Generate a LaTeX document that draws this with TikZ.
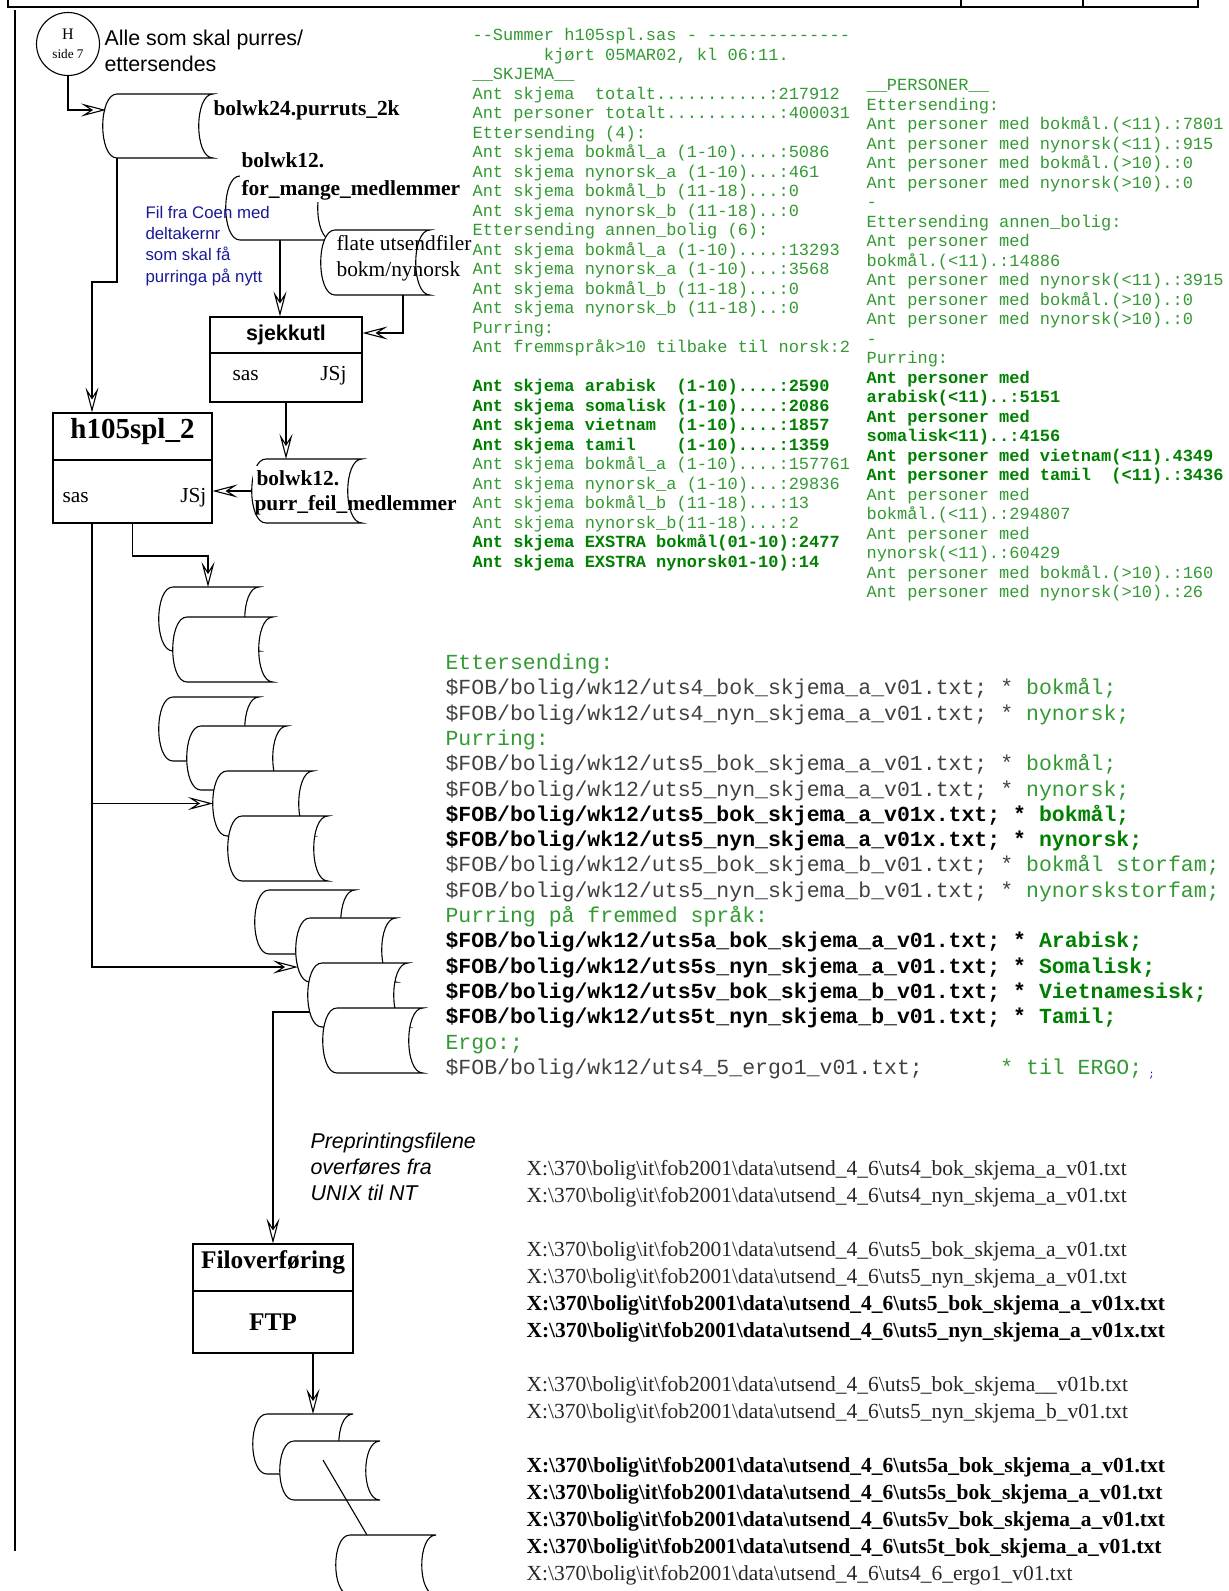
\documentclass[tikz,border=0pt]{standalone}
\usepackage{fontspec}
\setmainfont{Liberation Serif}
\setsansfont{Liberation Sans}
\setmonofont{Liberation Mono}
\usepackage{xcolor}
\usepackage{tikz}
\usetikzlibrary{arrows.meta}

\definecolor{utgronn}{RGB}{51,153,51}
\definecolor{morkgronn}{RGB}{0,128,0}
\definecolor{kodegraa}{RGB}{64,64,64}
\definecolor{coenblaa}{RGB}{25,25,150}

\tikzset{
  pics/lagring/.style 2 args={code={
    \filldraw[fill=white] (0,0) -- (#1,0) .. controls (#1-19,0) and (#1-19,#2) .. (#1,#2)
      -- (0,#2) .. controls (-19,#2) and (-19,0) .. (0,0) -- cycle;
    \coordinate (-nv) at (0,0);
    \coordinate (-sv) at (0,#2);
    \coordinate (-v) at (-14,#2/2);
  }},
  boks/.style={draw, inner sep=0pt},
  tekst/.style={inner sep=0pt, anchor=north west, align=left},
}

\begin{document}
\begin{tikzpicture}[x=0.5pt, y=-0.5pt, line width=0.55pt, >={Stealth[open,length=12.5pt,width=6.5pt,inset=5pt]}]
        \useasboundingbox (0,0) rectangle (1228,1591);
        % 边框
        \draw (8,0) -- (8,7) -- (1198,7) -- (1198,0);
        \draw (961,0) -- (961,7);
        \draw (1083,0) -- (1083,7);
        \draw (15,10) -- (15,1551);
        % 起点
        \node [draw,circle,minimum size=31.5pt,inner sep=0pt,align=center,font=\fontsize{6.6}{9.5}\selectfont] (h) at (68,44) {{\fontsize{8}{9.5}\selectfont H}\\side 7};
        \node [tekst,font=\sffamily\fontsize{10.7}{13}\selectfont] (alle) at (104,26.8) {\strut Alle som skal purres/\\ettersendes};
        % 数据文件
        \pic (s1) at (117,94) {lagring={96}{64}};
        \pic (s2) at (240,176) {lagring={92}{64}};
        \pic (s3) at (335,230) {lagring={95}{65}};
        \pic (s4) at (266,459) {lagring={96}{64}};
        \node [anchor=base west,inner sep=0pt,font=\bfseries\fontsize{10.7}{13}\selectfont] (l1) at (213,115) {bolwk24.purruts\_2k};
        \node [tekst,fill=white,inner sep=1pt,font=\bfseries\fontsize{10.7}{14}\selectfont] (l2) at (239,145.4) {\strut bolwk12.\\for\_mange\_medlemmer};
        \node [tekst,font=\fontsize{10.7}{13}\selectfont] (l3) at (336,231.8) {\strut flate utsendfiler\\bokm/nynorsk};
        \node [anchor=base west,fill=white,inner sep=2pt,font=\bfseries\fontsize{10.7}{12.5}\selectfont] (l4a) at (252,485) {bolwk12.};
        \node [anchor=base west,inner sep=0pt,font=\bfseries\fontsize{10.7}{12.5}\selectfont] (l4b) at (254,510) {purr\_feil\_medlemmer};
        \node [tekst,text=coenblaa,font=\sffamily\fontsize{8.4}{10.6}\selectfont] (coen) at (145,203.2) {\strut Fil fra Coen med\\deltakernr\\som skal få\\purringa på nytt};
        % 程序框
        \node [boks,minimum width=76pt,minimum height=42.5pt] (sjekk) at (286,359.5) {};
        \draw (sjekk.west |- 0,353) -- (sjekk.east |- 0,353);
        \node [anchor=base,inner sep=0pt,font=\sffamily\bfseries\fontsize{10.7}{13}\selectfont] (sjekknavn) at (286,340) {sjekkutl};
        \node [anchor=base west,inner sep=0pt,font=\fontsize{10.7}{13}\selectfont] (sjekksas) at (232,380) {sas};
        \node [anchor=base east,inner sep=0pt,font=\fontsize{10.7}{13}\selectfont] (sjekkjsj) at (347,380) {JSj};
        \node [boks,minimum width=79.5pt,minimum height=55pt] (h105) at (132.5,468) {};
        \draw (h105.west |- 0,460) -- (h105.east |- 0,460);
        \node [anchor=base,inner sep=0pt,font=\bfseries\fontsize{14.5}{17}\selectfont] (h105navn) at (132.5,438) {h105spl\_2};
        \node [anchor=base west,inner sep=0pt,font=\fontsize{10.7}{13}\selectfont] (h105sas) at (62,502) {sas};
        \node [anchor=base east,inner sep=0pt,font=\fontsize{10.7}{13}\selectfont] (h105jsj) at (207,502) {JSj};
        \node [boks,minimum width=80pt,minimum height=54.5pt] (fil) at (273,1298.5) {};
        \draw (fil.west |- 0,1291) -- (fil.east |- 0,1291);
        \node [anchor=base,inner sep=0pt,font=\bfseries\fontsize{12.7}{15}\selectfont] (filnavn) at (273,1268) {Filoverføring};
        \node [anchor=base,inner sep=0pt,font=\bfseries\fontsize{12.7}{15}\selectfont] (ftp) at (273,1330) {FTP};
        % 输出文件
        \pic (sA) at (173,587) {lagring={86}{64}};
        \pic (sB) at (187,617) {lagring={86}{65}};
        \pic (sC) at (173,697) {lagring={86}{64}};
        \pic (sD) at (201,726) {lagring={86}{64}};
        \pic (sE) at (227,771) {lagring={86}{65}};
        \pic (sF) at (242,816) {lagring={86}{65}};
        \pic (sG) at (269,890) {lagring={86}{64}};
        \pic (sH) at (310,918) {lagring={86}{64}};
        \pic (sI) at (322,963) {lagring={86}{64}};
        \pic (sJ) at (337,1008) {lagring={86}{65}};
        \pic (sK) at (267,1414) {lagring={86}{60}};
        \pic (sL) at (294,1441) {lagring={86}{59}};
        \pic (sM) at (350,1535) {lagring={86}{60}};
        \draw ([shift={(29,19)}]sL-nv) -- ([shift={(17,0)}]sM-nv);
        % 连线
        \coordinate (s1inn) at (106,110);
        \coordinate (knekk1) at (92,282);
        \coordinate (s2ut) at (280,240);
        \coordinate (s3ut) at (403,295);
        \coordinate (knekk2) at (208,556);
        \coordinate (stamme) at (h105.south -| knekk1);
        \coordinate (sHinn) at (298,967);
        \coordinate (sIut) at (310,1012);
        \coordinate (filut) at (313,1353);
        \draw [->] (h.south) |- (s1inn);
        \draw [->] (s1-sv) |- (knekk1) -- (knekk1 |- h105.north);
        \draw [->] (s2ut) -- (s2ut |- sjekk.north);
        \draw [->] (s3ut) |- ([yshift=13.25pt]sjekk.east);
        \draw [->] (sjekk.south) -- (sjekk.south |- s4-nv);
        \draw [->] (s4-v) -- (s4-v -| h105.east);
        \draw [->] (h105.south) |- (knekk2) -- (knekk2 |- sA-nv);
        \draw [->] (stamme) |- (sE-v);
        \draw [->] (stamme) |- (sHinn);
        \draw [->] (sIut) -| (fil.north);
        \draw [->] (filut) -- (filut |- sK-nv);
        \node [tekst,font=\sffamily\itshape\fontsize{10.7}{13}\selectfont] (preprint) at (310,1129.8) {\strut Preprintingsfilene\\overføres fra\\UNIX til NT};
        % 统计
        \node [tekst,text=utgronn,font=\ttfamily\fontsize{8.5}{9.75}\selectfont] (skjema) at (472,26.4) {\strut -{}-Summer h105spl.sas - -{}-{}-{}-{}-{}-{}-{}-{}-{}-{}-{}-{}-{}-\\
~~~~~~~kjørt 05MAR02, kl 06:11.\\
\_\_SKJEMA\_\_\\
Ant skjema~~totalt...........:217912\\
Ant personer totalt...........:400031\\
Ettersending (4):\\
Ant skjema bokmål\_a (1-10)....:5086\\
Ant skjema nynorsk\_a (1-10)...:461\\
Ant skjema bokmål\_b (11-18)...:0\\
Ant skjema nynorsk\_b (11-18)..:0\\
Ettersending annen\_bolig (6):\\
Ant skjema bokmål\_a (1-10)....:13293\\
Ant skjema nynorsk\_a (1-10)...:3568\\
Ant skjema bokmål\_b (11-18)...:0\\
Ant skjema nynorsk\_b (11-18)..:0\\
Purring:\\
Ant fremmspråk>10 tilbake til norsk:2\\[9.75pt]
\textbf{\textcolor{morkgronn}{Ant skjema arabisk~~(1-10)....:2590}}\\
\textbf{\textcolor{morkgronn}{Ant skjema somalisk (1-10)....:2086}}\\
\textbf{\textcolor{morkgronn}{Ant skjema vietnam~~(1-10)....:1857}}\\
\textbf{\textcolor{morkgronn}{Ant skjema tamil~~~~(1-10)....:1359}}\\
Ant skjema bokmål\_a (1-10)....:157761\\
Ant skjema nynorsk\_a (1-10)...:29836\\
Ant skjema bokmål\_b (11-18)...:13\\
Ant skjema nynorsk\_b(11-18)...:2\\
\textbf{\textcolor{morkgronn}{Ant skjema EXSTRA bokmål(01-10):2477}}\\
\textbf{\textcolor{morkgronn}{Ant skjema EXSTRA nynorsk01-10):14}}};
        \node [tekst,text=utgronn,font=\ttfamily\fontsize{8.5}{9.75}\selectfont] (personer) at (866,76.4) {\strut\_\_PERSONER\_\_\\
Ettersending:\\
Ant personer med bokmål.(<11).:7801\\
Ant personer med nynorsk(<11).:915\\
Ant personer med bokmål.(>10).:0\\
Ant personer med nynorsk(>10).:0\\
-\\
Ettersending annen\_bolig:\\
Ant personer med\\
bokmål.(<11).:14886\\
Ant personer med nynorsk(<11).:3915\\
Ant personer med bokmål.(>10).:0\\
Ant personer med nynorsk(>10).:0\\
-\\
Purring:\\
\textbf{\textcolor{morkgronn}{Ant personer med}}\\
\textbf{\textcolor{morkgronn}{arabisk(<11)..:5151}}\\
\textbf{\textcolor{morkgronn}{Ant personer med}}\\
\textbf{\textcolor{morkgronn}{somalisk<11)..:4156}}\\
\textbf{\textcolor{morkgronn}{Ant personer med vietnam(<11).4349}}\\
\textbf{\textcolor{morkgronn}{Ant personer med tamil~~(<11).:3436}}\\
Ant personer med\\
bokmål.(<11).:294807\\
Ant personer med\\
nynorsk(<11).:60429\\
Ant personer med bokmål.(>10).:160\\
Ant personer med nynorsk(>10).:26};
        % UNIX文件
        \node [tekst,text=kodegraa,font=\ttfamily\fontsize{10.75}{12.65}\selectfont] (fob) at (445,651.3) {\strut\textcolor{utgronn}{Ettersending:}\\
\$FOB/bolig/wk12/uts4\_bok\_skjema\_a\_v01.txt; * \textcolor{utgronn}{bokmål;}\\
\$FOB/bolig/wk12/uts4\_nyn\_skjema\_a\_v01.txt; * \textcolor{utgronn}{nynorsk;}\\
\textcolor{utgronn}{Purring:}\\
\$FOB/bolig/wk12/uts5\_bok\_skjema\_a\_v01.txt; * \textcolor{utgronn}{bokmål;}\\
\$FOB/bolig/wk12/uts5\_nyn\_skjema\_a\_v01.txt; * \textcolor{utgronn}{nynorsk;}\\
\textbf{\color{black}\$FOB/bolig/wk12/uts5\_bok\_skjema\_a\_v01x.txt; * \textcolor{morkgronn}{bokmål;}}\\
\textbf{\color{black}\$FOB/bolig/wk12/uts5\_nyn\_skjema\_a\_v01x.txt; * \textcolor{morkgronn}{nynorsk;}}\\
\$FOB/bolig/wk12/uts5\_bok\_skjema\_b\_v01.txt; * \textcolor{utgronn}{bokmål storfam;}\\
\$FOB/bolig/wk12/uts5\_nyn\_skjema\_b\_v01.txt; * \textcolor{utgronn}{nynorskstorfam;}\\
\textcolor{utgronn}{Purring på fremmed språk:}\\
\textbf{\color{black}\$FOB/bolig/wk12/uts5a\_bok\_skjema\_a\_v01.txt; * \textcolor{morkgronn}{Arabisk;}}\\
\textbf{\color{black}\$FOB/bolig/wk12/uts5s\_nyn\_skjema\_a\_v01.txt; * \textcolor{morkgronn}{Somalisk;}}\\
\textbf{\color{black}\$FOB/bolig/wk12/uts5v\_bok\_skjema\_b\_v01.txt; * \textcolor{morkgronn}{Vietnamesisk;}}\\
\textbf{\color{black}\$FOB/bolig/wk12/uts5t\_nyn\_skjema\_b\_v01.txt; * \textcolor{morkgronn}{Tamil;}}\\
\textcolor{utgronn}{Ergo:;}\\
\$FOB/bolig/wk12/uts4\_5\_ergo1\_v01.txt;~~~~~~\textcolor{utgronn}{* til ERGO;}};
        \node [anchor=base west,inner sep=0pt,text=blue,font=\ttfamily\fontsize{5}{6}\selectfont] (semikolon) at (1148,1077) {;};
        % NT文件
        \node [tekst,text=black!85,font=\fontsize{10.75}{13.5}\selectfont] (xfiler) at (526,1156.1) {\strut X:\textbackslash 370\textbackslash bolig\textbackslash it\textbackslash fob2001\textbackslash data\textbackslash utsend\_4\_6\textbackslash uts4\_bok\_skjema\_a\_v01.txt\\
X:\textbackslash 370\textbackslash bolig\textbackslash it\textbackslash fob2001\textbackslash data\textbackslash utsend\_4\_6\textbackslash uts4\_nyn\_skjema\_a\_v01.txt\\[13.5pt]
X:\textbackslash 370\textbackslash bolig\textbackslash it\textbackslash fob2001\textbackslash data\textbackslash utsend\_4\_6\textbackslash uts5\_bok\_skjema\_a\_v01.txt\\
X:\textbackslash 370\textbackslash bolig\textbackslash it\textbackslash fob2001\textbackslash data\textbackslash utsend\_4\_6\textbackslash uts5\_nyn\_skjema\_a\_v01.txt\\
\textbf{\color{black}X:\textbackslash 370\textbackslash bolig\textbackslash it\textbackslash fob2001\textbackslash data\textbackslash utsend\_4\_6\textbackslash uts5\_bok\_skjema\_a\_v01x.txt}\\
\textbf{\color{black}X:\textbackslash 370\textbackslash bolig\textbackslash it\textbackslash fob2001\textbackslash data\textbackslash utsend\_4\_6\textbackslash uts5\_nyn\_skjema\_a\_v01x.txt}\\[13.5pt]
X:\textbackslash 370\textbackslash bolig\textbackslash it\textbackslash fob2001\textbackslash data\textbackslash utsend\_4\_6\textbackslash uts5\_bok\_skjema\_\_v01b.txt\\
X:\textbackslash 370\textbackslash bolig\textbackslash it\textbackslash fob2001\textbackslash data\textbackslash utsend\_4\_6\textbackslash uts5\_nyn\_skjema\_b\_v01.txt\\[13.5pt]
\textbf{\color{black}X:\textbackslash 370\textbackslash bolig\textbackslash it\textbackslash fob2001\textbackslash data\textbackslash utsend\_4\_6\textbackslash uts5a\_bok\_skjema\_a\_v01.txt}\\
\textbf{\color{black}X:\textbackslash 370\textbackslash bolig\textbackslash it\textbackslash fob2001\textbackslash data\textbackslash utsend\_4\_6\textbackslash uts5s\_bok\_skjema\_a\_v01.txt}\\
\textbf{\color{black}X:\textbackslash 370\textbackslash bolig\textbackslash it\textbackslash fob2001\textbackslash data\textbackslash utsend\_4\_6\textbackslash uts5v\_bok\_skjema\_a\_v01.txt}\\
\textbf{\color{black}X:\textbackslash 370\textbackslash bolig\textbackslash it\textbackslash fob2001\textbackslash data\textbackslash utsend\_4\_6\textbackslash uts5t\_bok\_skjema\_a\_v01.txt}\\
X:\textbackslash 370\textbackslash bolig\textbackslash it\textbackslash fob2001\textbackslash data\textbackslash utsend\_4\_6\textbackslash uts4\_6\_ergo1\_v01.txt};
    \end{tikzpicture}
\end{document}
